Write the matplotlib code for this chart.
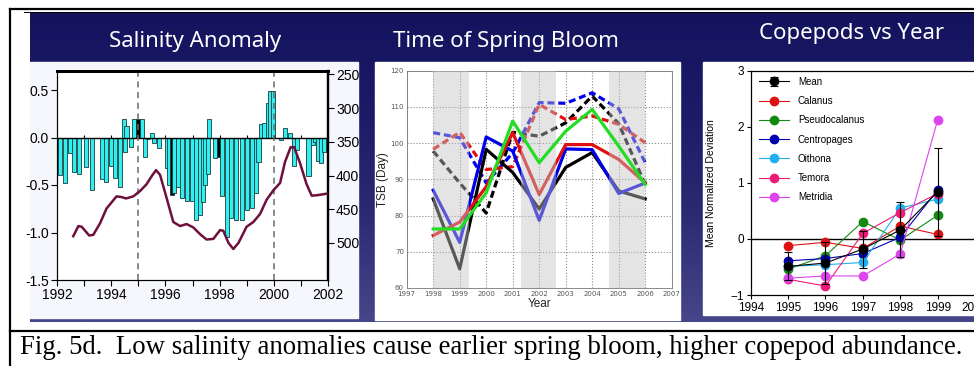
import numpy as np
import matplotlib
matplotlib.use('Agg')
import matplotlib.pyplot as plt
from matplotlib import font_manager
from matplotlib.colors import LinearSegmentedColormap
from matplotlib.patches import Rectangle

W, H = 974, 366

# ---- salinity anomaly (bars, left axis) ----
sal_years = [1991.95, 1992.10, 1992.28, 1992.47, 1992.62, 1992.80, 1993.06, 1993.28,
             1993.65, 1993.80, 1993.99, 1994.13, 1994.32, 1994.47, 1994.51, 1994.55,
             1994.73, 1994.84, 1994.98, 1995.13, 1995.24, 1995.35, 1995.50, 1995.58,
             1995.76, 1996.06, 1996.13, 1996.24, 1996.31, 1996.46, 1996.61, 1996.79,
             1996.98, 1997.13, 1997.28, 1997.39, 1997.46, 1997.57, 1997.61, 1997.83,
             1997.98, 1998.09, 1998.28, 1998.42, 1998.61, 1998.83, 1999.02, 1999.20,
             1999.35, 1999.43, 1999.54, 1999.65, 1999.80, 1999.87, 1999.98, 2000.28,
             2000.42, 2000.61, 2000.76, 2000.87, 2001.28, 2001.46, 2001.55, 2001.64,
             2001.75, 2001.87]
sal_values = [-0.17, -0.39, -0.48, -0.16, -0.36, -0.38, -0.31, -0.55,
              -0.44, -0.47, -0.30, -0.43, -0.52, 0.19, -0.15, 0.12,
              -0.10, 0.19, 0.19, 0.19, -0.20, -0.02, 0.05, -0.06,
              -0.11, -0.32, -0.50, -0.60, -0.58, -0.52, -0.64, -0.67,
              -0.67, -0.87, -0.82, -0.68, -0.50, -0.38, 0.20, -0.22,
              -0.20, -0.62, -1.05, -0.85, -0.87, -0.87, -0.76, -0.74,
              -0.58, -0.26, 0.14, 0.15, 0.36, 0.49, 0.49, -0.03,
              0.10, 0.05, -0.30, -0.13, -0.40, -0.08, -0.05, -0.25,
              -0.27, -0.15]
sal_dark = [1994.98, 1996.24, 1997.98]

# ---- smoothed line on right (inverted) axis ----
sm_years = [1992.59, 1992.78, 1992.90, 1993.18, 1993.33, 1993.58, 1993.82, 1994.19,
            1994.38, 1994.54, 1994.81, 1995.06, 1995.30, 1995.49, 1995.65, 1995.80,
            1996.04, 1996.29, 1996.54, 1996.78, 1997.03, 1997.28, 1997.52, 1997.77,
            1998.02, 1998.14, 1998.33, 1998.51, 1998.70, 1999.00, 1999.25, 1999.50,
            1999.74, 1999.99, 2000.24, 2000.42, 2000.63, 2000.76, 2000.98, 2001.22,
            2001.41, 2001.65, 2001.96]
sm_values = [490, 475, 476, 489, 488, 471, 449, 431,
             432, 434, 431, 423, 413, 401, 392, 399,
             433, 469, 475, 472, 477, 487, 495, 494,
             481, 482, 500, 509, 500, 476, 469, 457,
             436, 422, 411, 380, 358, 358, 382, 413,
             430, 429, 427]

# ---- time of spring bloom ----
tsb_years = [1998, 1999, 2000, 2001, 2002, 2003, 2004, 2005, 2006]
tsb_black = [84.6, 65.3, 98.3, 91.9, 81.8, 93.3, 97.4, 86.8, 84.6]
tsb_blue = [87.0, 72.6, 101.7, 97.8, 78.7, 98.4, 98.2, 86.1, 89.0]
tsb_red = [74.5, 78.2, 88.0, 102.9, 85.8, 99.6, 99.6, 95.5, 89.0]
tsb_green = [76.3, 76.3, 86.3, 106.1, 94.6, 103.3, 109.3, 99.2, 88.6]
tsb_black_dash = [97.8, 89.0, 80.7, 103.0, 101.9, 105.6, 113.0, 105.4, 88.6]
tsb_blue_dash = [102.9, 101.5, 89.0, 97.3, 111.2, 111.0, 113.9, 109.5, 94.6]
tsb_red_dash = [98.3, 103.0, 92.7, 93.5, 110.7, 106.5, 107.5, 105.2, 100.1]
tsb_bands = [(1998.0, 1999.35), (2001.3, 2002.65), (2004.65, 2006.0)]

# ---- copepods ----
cop_years = [1995, 1996, 1997, 1998, 1999]
cop_mean = [-0.49, -0.43, -0.18, 0.16, 0.84]
cop_mean_err = [0.25, 0.38, 0.33, 0.49, 0.79]
cop_calanus = [-0.12, -0.06, -0.17, 0.23, 0.08]
cop_pseudo = [-0.54, -0.30, 0.31, -0.02, 0.42]
cop_centro = [-0.39, -0.35, -0.26, 0.03, 0.87]
cop_oithona = [-0.49, -0.46, -0.42, 0.55, 0.71]
cop_temora = [-0.72, -0.84, 0.10, 0.47, 0.81]
cop_metridia = [-0.70, -0.66, -0.66, -0.27, 2.12]

names = set(f.name for f in font_manager.fontManager.ttflist)
narrow = 'Liberation Sans Narrow' if 'Liberation Sans Narrow' in names else 'Liberation Sans'


def box(x0, y0, x1, y1):
    return [x0 / W, 1 - y1 / H, (x1 - x0) / W, (y1 - y0) / H]


fig = plt.figure(figsize=(W / 100, H / 100), dpi=100)
fig.patch.set_facecolor('white')

# background with navy gradient and frame lines
bg = fig.add_axes([0, 0, 1, 1])
bg.set_xlim(0, W)
bg.set_ylim(H, 0)
bg.axis('off')
navy = LinearSegmentedColormap.from_list('navy', ['#13135e', '#1b1b68', '#2c2c74', '#46468a'])
grad = np.linspace(0, 1, 200).reshape(-1, 1)
bg.imshow(grad, cmap=navy, extent=[30, 974, 322, 12], aspect='auto', zorder=0)
bg.add_patch(Rectangle((30, 62), 328, 256, color='#f6f7fc', zorder=1))
bg.add_patch(Rectangle((375, 62), 305, 258, color='white', zorder=1))
bg.add_patch(Rectangle((703, 62), 272, 253, color='white', zorder=1))
bg.plot([10, 974], [9, 9], color='black', lw=1.6, zorder=2)
bg.plot([24, 974], [11.5, 11.5], color='black', lw=0.7, zorder=2)
bg.plot([10, 10], [9, 366], color='black', lw=1.6, zorder=2)
bg.plot([10, 974], [331, 331], color='black', lw=1.6, zorder=2)

title_kw = dict(color='white', fontsize=16, family='Noto Sans', ha='center', va='center')
fig.text(195 / W, 1 - 42 / H, 'Salinity Anomaly', **title_kw)
fig.text(506 / W, 1 - 42 / H, 'Time of Spring Bloom', **title_kw)
fig.text(852 / W, 1 - 33 / H, 'Copepods vs Year', **title_kw)

fig.text(20 / W, 1 - 348 / H,
         'Fig. 5d.  Low salinity anomalies cause earlier spring bloom, higher copepod abundance.',
         family='Liberation Serif', fontsize=19.3, ha='left', va='center', color='black')

# ---------------- salinity panel ----------------
ax1 = fig.add_axes(box(57.3, 71, 327.7, 280))
ax1.set_facecolor('white')
cols = ['black' if y in sal_dark else '#2ef0f0' for y in sal_years]
ax1.bar(sal_years, sal_values, width=0.17, color=cols, edgecolor='#1d3b3b', linewidth=0.6, zorder=2)
ax1.axhline(0, color='black', lw=1.0, zorder=3)
ax1.vlines(np.arange(1993, 2002), 0, 0.03, color='black', lw=0.8, zorder=3)
for yr in [1995, 2000]:
    ax1.plot([yr, yr], [-1.5, 0.73], color='#6a6a6a', lw=1.1, dashes=(4, 3), clip_on=False, zorder=4)
ax1.set_xlim(1992, 2002)
ax1.set_ylim(-1.5, 0.7)
ax1.set_xticks(np.arange(1992, 2003, 2))
ax1.set_xticks(np.arange(1992, 2003, 1), minor=True)
ax1.set_yticks([0.5, 0.0, -0.5, -1.0, -1.5])
ax1.set_yticklabels(['0.5', '0.0', '-0.5', '-1.0', '-1.5'])
ax1.tick_params(axis='both', direction='out', length=4, width=0.8, labelsize=10, pad=2)
ax1.tick_params(axis='x', which='minor', direction='out', length=4, width=0.8)
for lab in ax1.get_xticklabels() + ax1.get_yticklabels():
    lab.set_family(narrow)
ax1.spines['top'].set_linewidth(2)
ax1.spines['left'].set_linewidth(0.8)
ax1.spines['bottom'].set_linewidth(0.8)
ax1.spines['right'].set_linewidth(1.6)

ax1b = ax1.twinx()
ax1b.plot(sm_years, sm_values, color='#6e0f3c', lw=1.8, zorder=5)
ax1b.set_ylim(555, 245)
ax1b.set_yticks([250, 300, 350, 400, 450, 500])
ax1b.tick_params(axis='y', direction='out', length=4, width=0.8, labelsize=10, pad=2)
for lab in ax1b.get_yticklabels():
    lab.set_family(narrow)
ax1b.spines['right'].set_linewidth(1.6)
ax1b.spines['top'].set_linewidth(2)

# ---------------- spring bloom panel ----------------
ax2 = fig.add_axes(box(406.7, 70.7, 671.7, 288))
ax2.set_facecolor('white')
for a, b in tsb_bands:
    ax2.axvspan(a, b, color='#c4c4c4', alpha=0.45, lw=0, zorder=3)
ax2.plot(tsb_years, tsb_black_dash, color='black', lw=2.3, dashes=(2.2, 1.2), zorder=2)
ax2.plot(tsb_years, tsb_blue_dash, color='#0000ee', lw=2.3, dashes=(2.2, 1.2), zorder=2)
ax2.plot(tsb_years, tsb_red_dash, color='#e01010', lw=2.3, dashes=(2.2, 1.2), zorder=2)
ax2.plot(tsb_years, tsb_black, color='black', lw=2.3, zorder=2)
ax2.plot(tsb_years, tsb_blue, color='#0000e6', lw=2.3, zorder=2)
ax2.plot(tsb_years, tsb_red, color='#e01010', lw=2.3, zorder=2)
ax2.plot(tsb_years, tsb_green, color='#22dd22', lw=2.3, zorder=4)
ax2.set_xlim(1997, 2007)
ax2.set_ylim(60, 120)
ax2.set_xticks(np.arange(1997, 2008))
ax2.set_yticks(np.arange(60, 121, 10))
ax2.grid(True, linestyle=':', color='#8a8a8a', lw=0.8, zorder=1)
ax2.tick_params(axis='both', length=0, labelsize=5, colors='#555555', pad=2)
ax2.set_xlabel('Year', fontsize=8.5, family='Liberation Sans', color='#222222', labelpad=1)
ax2.set_ylabel('TSB (Day)', fontsize=8.5, family='Liberation Sans', color='#222222')
ax2.yaxis.set_label_coords(-0.068, 0.5)
for s in ax2.spines.values():
    s.set_linewidth(0.6)
    s.set_color('#777777')

# ---------------- copepod panel ----------------
ax3 = fig.add_axes(box(750.7, 70.7, 975, 295))
ax3.set_facecolor('white')
ax3.axhline(0, color='black', lw=1.0, zorder=1)
mk = dict(marker='o', markersize=6, lw=0.8)
ax3.plot(cop_years, cop_calanus, color='#dd1111', label='Calanus', zorder=3, **mk)
ax3.plot(cop_years, cop_pseudo, color='#128a12', label='Pseudocalanus', zorder=3, **mk)
ax3.plot(cop_years, cop_centro, color='#0000b0', label='Centropages', zorder=3, **mk)
ax3.plot(cop_years, cop_oithona, color='#1fb0f0', label='Oithona', zorder=3, **mk)
ax3.plot(cop_years, cop_temora, color='#ee1a78', label='Temora', zorder=3, **mk)
ax3.plot(cop_years, cop_metridia, color='#dd44ee', label='Metridia', zorder=3, **mk)
ax3.errorbar(cop_years, cop_mean, yerr=cop_mean_err, color='black', capsize=3,
             elinewidth=0.8, capthick=0.8, label='Mean', zorder=4, **mk)
h, l = ax3.get_legend_handles_labels()
order = [l.index(n) for n in ['Mean', 'Calanus', 'Pseudocalanus', 'Centropages', 'Oithona', 'Temora', 'Metridia']]
ax3.legend([h[i] for i in order], [l[i] for i in order], loc='upper left',
           bbox_to_anchor=(0.02, 0.99), frameon=False, handlelength=3.1,
           handletextpad=0.9, labelspacing=0.95, borderaxespad=0, prop={'family': 'Liberation Sans', 'size': 7})
ax3.set_xlim(1994, 2000)
ax3.set_ylim(-1, 3)
ax3.set_xticks(np.arange(1994, 2001))
ax3.set_yticks([-1, 0, 1, 2, 3])
ax3.tick_params(axis='both', direction='out', length=3, width=0.8, labelsize=8.5, pad=2)
for lab in ax3.get_xticklabels() + ax3.get_yticklabels():
    lab.set_family('Liberation Sans')
ax3.set_ylabel('Mean Normalized Deviation', fontsize=7.5, family='Liberation Sans', labelpad=10)
ax3.spines['right'].set_visible(False)
for s in ['top', 'left', 'bottom']:
    ax3.spines[s].set_linewidth(0.9)

fig.savefig('out.png', dpi=100, facecolor='white')
